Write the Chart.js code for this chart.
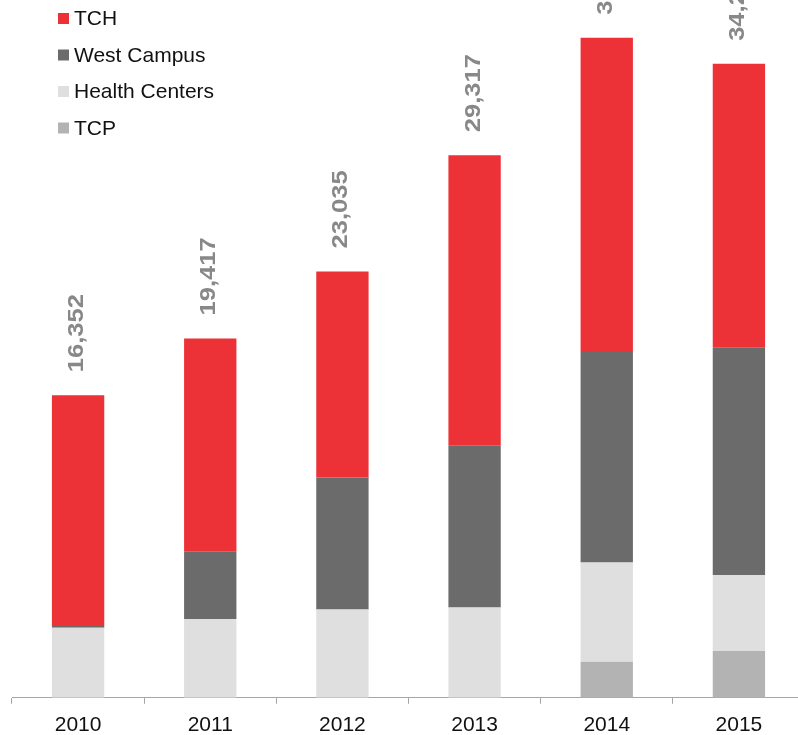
<!DOCTYPE html>
<html>
<head>
<meta charset="utf-8">
<script src="https://cdn.jsdelivr.net/npm/chart.js@4/dist/chart.umd.min.js"></script>
<style>
  html, body { margin: 0; padding: 0; background: #fff; overflow: hidden; }
  #wrap { position: relative; width: 806px; height: 735px; }
</style>
</head>
<body>
<div id="wrap"><canvas id="chartCanvas" width="806" height="735"></canvas></div>
<script>
// --- Dados ---
const anos = ["2010", "2011", "2012", "2013", "2014", "2015"];
const tcp = [0, 0, 0, 0, 1946, 2524];
const healthCenters = [3784, 4254, 4773, 4881, 5367, 4108];
const westCampus = [90, 3638, 7135, 8740, 11372, 12302];
const tch = [12478, 11525, 11127, 15696, 16972, 15318];

const cores = {
  tch: "#EC3237",
  west: "#6B6B6B",
  health: "#DFDFDF",
  tcp: "#B3B3B3",
  rotulo: "#888888",
  eixo: "#A6A6A6"
};

const fonte = "'Liberation Sans', Arial, sans-serif";

// --- Legenda desenhada no canto ---
const legendaPlugin = {
  id: "legendaCanto",
  afterDraw(chart) {
    const ctx = chart.ctx;
    const itens = [
      { nome: "TCH", cor: cores.tch },
      { nome: "West Campus", cor: cores.west },
      { nome: "Health Centers", cor: cores.health },
      { nome: "TCP", cor: cores.tcp }
    ];
    ctx.save();
    ctx.font = "21px " + fonte;
    ctx.textBaseline = "middle";
    itens.forEach((it, i) => {
      const y = 18.5 + i * 36.5;
      ctx.fillStyle = it.cor;
      ctx.fillRect(58, y - 5.5, 11, 11);
      ctx.fillStyle = "#111";
      ctx.fillText(it.nome, 74, y + 1);
    });
    ctx.restore();
  }
};

// --- Totais acima das barras (rotacionados) ---
const totaisPlugin = {
  id: "totais",
  afterDatasetsDraw(chart) {
    const ctx = chart.ctx;
    const ultimo = chart.getDatasetMeta(chart.data.datasets.length - 1);
    ctx.save();
    ctx.font = "bold 22px " + fonte;
    ctx.fillStyle = cores.rotulo;
    ctx.textAlign = "left";
    ctx.textBaseline = "alphabetic";
    anos.forEach((a, i) => {
      const total = tcp[i] + healthCenters[i] + westCampus[i] + tch[i];
      const bar = ultimo.data[i];
      ctx.save();
      ctx.translate(bar.x + 5, bar.y - 23);
      ctx.rotate(-Math.PI / 2);
      ctx.scale(1.16, 1);
      ctx.fillText(total.toLocaleString("en-US"), 0, 0);
      ctx.restore();
    });
    ctx.restore();
  }
};

// --- Grafico ---
const canvas = document.getElementById("chartCanvas");
new Chart(canvas, {
  type: "bar",
  data: {
    labels: anos,
    datasets: [
      { label: "TCP", data: tcp, backgroundColor: cores.tcp },
      { label: "Health Centers", data: healthCenters, backgroundColor: cores.health },
      { label: "West Campus", data: westCampus, backgroundColor: cores.west },
      { label: "TCH", data: tch, backgroundColor: cores.tch }
    ]
  },
  options: {
    responsive: false,
    animation: false,
    devicePixelRatio: 1,
    layout: { padding: { left: 12, right: 1, top: 0, bottom: -12 } },
    plugins: {
      legend: { display: false },
      tooltip: { enabled: false }
    },
    datasets: {
      bar: { categoryPercentage: 1, barPercentage: 0.396, borderWidth: 0 }
    },
    scales: {
      x: {
        stacked: true,
        border: { display: true, color: cores.eixo, width: 1 },
        grid: {
          display: true,
          drawOnChartArea: false,
          drawTicks: true,
          tickLength: 6,
          color: cores.eixo,
          offset: true
        },
        ticks: {
          color: "#111",
          padding: 9,
          font: { family: fonte, size: 21 },
          maxRotation: 0
        }
      },
      y: {
        stacked: true,
        display: false,
        min: 0,
        max: 37700
      }
    }
  },
  plugins: [totaisPlugin, legendaPlugin]
});
</script>
</body>
</html>
